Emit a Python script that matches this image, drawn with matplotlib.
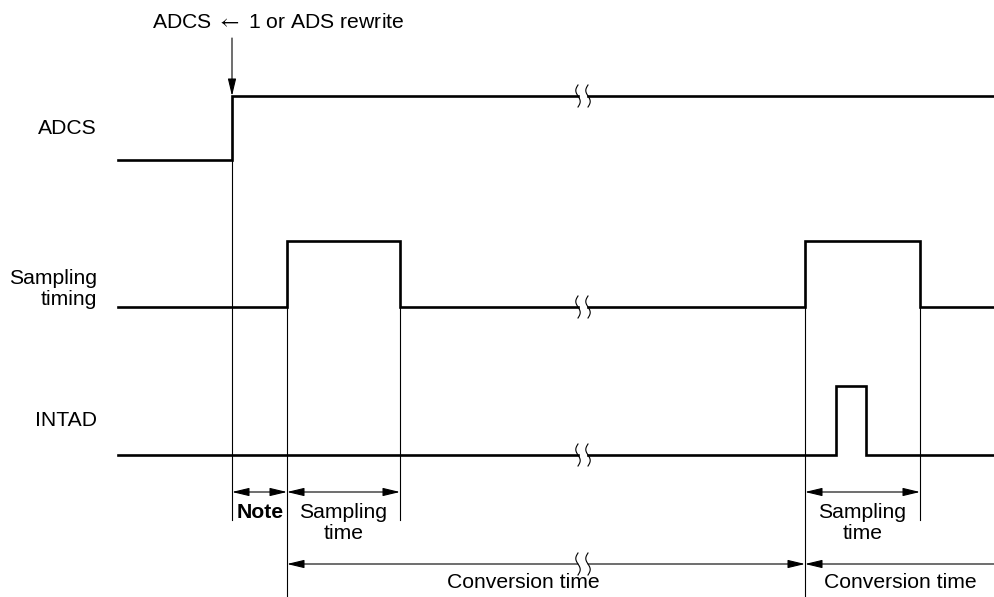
import numpy as np
import matplotlib
matplotlib.use("Agg")
import matplotlib.pyplot as plt

#-------------------
# Timing data (horizontal positions of edges, vertical levels of each trace)

x_start = 118
x_end = 995
x_break = 583          # centre of the "time break" marks

adcs_rise = 232
adcs_levels = (160, 96)            # low, high

sampling_edges = [287, 400, 805, 920]
sampling_levels = (307, 241)

intad_edges = [836, 866]
intad_levels = (455, 386)

signal_names = ["ADCS", "Sampling\ntiming", "INTAD"]
signal_label_y = [128, 289, 421]

top_label = r"ADCS $\leftarrow$ 1 or ADS rewrite"

#-------------------

plt.rcParams["font.family"] = ["Liberation Sans", "DejaVu Sans"]
plt.rcParams["mathtext.fontset"] = "stixsans"

fig = plt.figure(figsize=(9.95, 5.97), dpi=100)
ax = fig.add_axes([0, 0, 1, 1])
ax.set_xlim(0, 995)
ax.set_ylim(597, 0)
ax.axis("off")

THICK = 1.9
THIN = 0.8
FS = 15.2


def waveform(edges, levels):
    """Build step-wave x/y points starting low at x_start."""
    low, high = levels
    xs = [x_start]
    ys = [low]
    state = 0
    for e in edges:
        xs += [e, e]
        ys += [ys[-1], high if state == 0 else low]
        state = 1 - state
    xs.append(x_end)
    ys.append(ys[-1])
    return np.array(xs, float), np.array(ys, float)


def break_marks(x, y, h=11):
    t = np.linspace(-1, 1, 40)
    for dx in (-5, 5):
        ax.plot(x + dx + 2.2 * np.sin(np.pi * t), y + h * t, color="k", lw=0.8)


def draw_wave(edges, levels):
    xs, ys = waveform(edges, levels)
    # split at the break
    gap_l, gap_r = x_break - 5, x_break + 5
    left = xs <= gap_l
    xl = np.append(xs[left], gap_l)
    yl = np.append(ys[left], ys[left][-1])
    right = xs >= gap_r
    xr = np.insert(xs[right], 0, gap_r)
    yr = np.insert(ys[right], 0, ys[~right][-1])
    ax.plot(xl, yl, color="k", lw=THICK, solid_joinstyle="miter")
    ax.plot(xr, yr, color="k", lw=THICK, solid_joinstyle="miter")
    break_marks(x_break, yl[-1])


draw_wave([adcs_rise], adcs_levels)
draw_wave(sampling_edges, sampling_levels)
draw_wave(intad_edges, intad_levels)

for name, y in zip(signal_names, signal_label_y):
    ax.text(97, y, name, ha="right", va="center", fontsize=FS, linespacing=1.1)

# top trigger label and arrow
ax.text(278, 22, top_label, ha="center", va="center", fontsize=FS)
arrow_style = "-|>,head_length=0.75,head_width=0.18"
ax.annotate("", xy=(adcs_rise, adcs_levels[1]), xytext=(adcs_rise, 38),
            arrowprops=dict(arrowstyle=arrow_style, lw=THIN, color="k",
                            shrinkA=0, shrinkB=0, mutation_scale=14))

# thin vertical guide lines
ax.plot([adcs_rise] * 2, [adcs_levels[1], 520], color="k", lw=THIN)
ax.plot([sampling_edges[0]] * 2, [sampling_levels[1], 597], color="k", lw=THIN)
ax.plot([sampling_edges[1]] * 2, [sampling_levels[0], 520], color="k", lw=THIN)
ax.plot([sampling_edges[2]] * 2, [sampling_levels[1], 597], color="k", lw=THIN)
ax.plot([sampling_edges[3]] * 2, [sampling_levels[0], 520], color="k", lw=THIN)


def dim_arrow(x0, x1, y, style):
    ax.annotate("", xy=(x1, y), xytext=(x0, y),
                arrowprops=dict(arrowstyle=style + ",head_length=0.75,head_width=0.18",
                                lw=THIN, color="k", shrinkA=0, shrinkB=0,
                                mutation_scale=14))


y_dim1 = 492
y_dim2 = 564
dim_arrow(adcs_rise, sampling_edges[0], y_dim1, "<|-|>")
dim_arrow(sampling_edges[0], sampling_edges[1], y_dim1, "<|-|>")
dim_arrow(sampling_edges[2], sampling_edges[3], y_dim1, "<|-|>")

ax.text((adcs_rise + sampling_edges[0]) / 2 + 1, 512, "Note", ha="center", va="center",
        fontsize=FS, fontweight="bold")
ax.text((sampling_edges[0] + sampling_edges[1]) / 2, 523, "Sampling\ntime",
        ha="center", va="center", fontsize=FS, linespacing=1.15)
ax.text((sampling_edges[2] + sampling_edges[3]) / 2, 523, "Sampling\ntime",
        ha="center", va="center", fontsize=FS, linespacing=1.15)

# conversion time arrows
dim_arrow(x_break - 5, sampling_edges[0], y_dim2, "-|>")
dim_arrow(x_break + 5, sampling_edges[2], y_dim2, "-|>")
break_marks(x_break, y_dim2)
dim_arrow(x_end, sampling_edges[2], y_dim2, "-|>")

ax.text(523, 582, "Conversion time", ha="center", va="center", fontsize=FS)
ax.text(900, 582, "Conversion time", ha="center", va="center", fontsize=FS)

fig.savefig("out.png", dpi=100, facecolor="white")
